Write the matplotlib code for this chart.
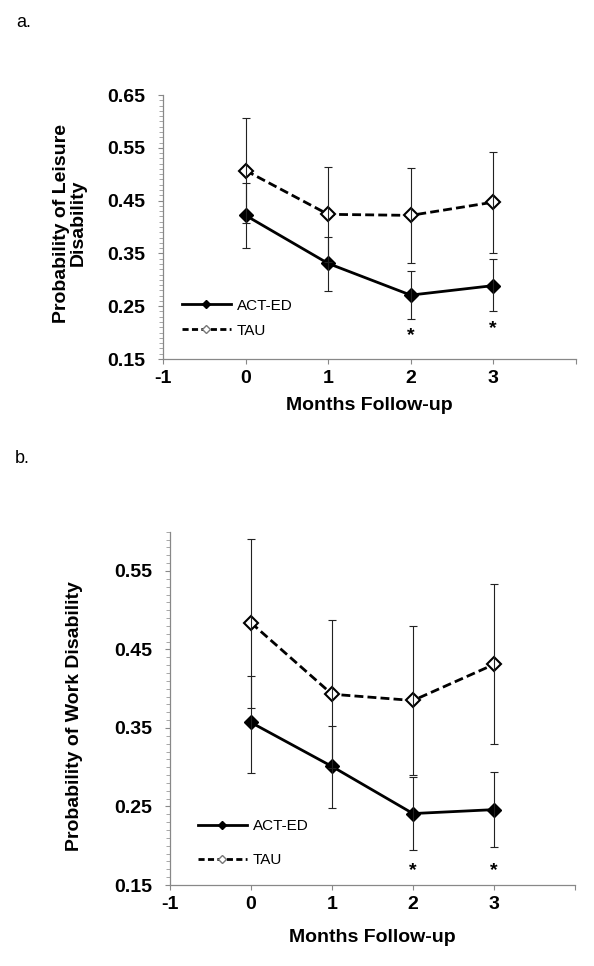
import numpy as np
import matplotlib
matplotlib.use('Agg')
import matplotlib.pyplot as plt
import matplotlib.transforms as mtransforms
from matplotlib.lines import Line2D
from matplotlib.ticker import MultipleLocator

plt.rcParams['font.family'] = ['Liberation Sans', 'DejaVu Sans']

# data
months = [0, 1, 2, 3]
xtick_labels = ['-1', '0', '1', '2', '3', '']

leisure_act = [0.422, 0.331, 0.271, 0.289]
leisure_act_lo = [0.361, 0.279, 0.225, 0.240]
leisure_act_hi = [0.483, 0.382, 0.317, 0.339]
leisure_tau = [0.507, 0.424, 0.422, 0.447]
leisure_tau_lo = [0.408, 0.334, 0.331, 0.350]
leisure_tau_hi = [0.606, 0.514, 0.511, 0.542]
leisure_yticks = [0.15, 0.25, 0.35, 0.45, 0.55, 0.65]

work_act = [0.357, 0.301, 0.241, 0.246]
work_act_lo = [0.293, 0.248, 0.194, 0.199]
work_act_hi = [0.416, 0.353, 0.288, 0.294]
work_tau = [0.484, 0.393, 0.385, 0.431]
work_tau_lo = [0.376, 0.299, 0.290, 0.329]
work_tau_hi = [0.591, 0.487, 0.480, 0.533]
work_yticks = [0.15, 0.25, 0.35, 0.45, 0.55]

star_months = [2, 3]
leisure_star_y = [0.200, 0.214]
work_star_y = [0.172, 0.172]

legend_labels = ['ACT-ED', 'TAU']

W, H = 594, 966
fig = plt.figure(figsize=(W / 100, H / 100), dpi=100)
GREY = '#888888'


def add_axes_px(left, top, right, bottom):
    return fig.add_axes([left / W, 1 - bottom / H, (right - left) / W, (bottom - top) / H])


def draw_panel(ax, act, act_lo, act_hi, tau, tau_lo, tau_hi, ylim, yticks,
               ylabel, ylab_xy, xlab_y, star_y, leg_x, leg_y, leg_space):
    ax.plot(months, act, color='black', lw=2, marker='D', ms=7, zorder=3)
    ax.plot(months, tau, color='black', lw=2, dashes=(3.2, 1.5), marker='D', ms=7,
            mfc='white', mec='black', mew=1.5, zorder=3)
    ax.errorbar(months, act, yerr=[np.subtract(act, act_lo), np.subtract(act_hi, act)],
                fmt='none', ecolor='#222222', elinewidth=0.8, capsize=3, capthick=0.8, zorder=4)
    ax.errorbar(months, tau, yerr=[np.subtract(tau, tau_lo), np.subtract(tau_hi, tau)],
                fmt='none', ecolor='#222222', elinewidth=0.8, capsize=3, capthick=0.8, zorder=4)

    # significance stars
    star_tr = mtransforms.offset_copy(ax.transData, fig=fig, y=-5.5, units='points')
    for xm, ys in zip(star_months, star_y):
        ax.text(xm, ys, '*', transform=star_tr, ha='center', va='baseline',
                fontsize=14, fontweight='bold')

    ax.set_xlim(-1, 4)
    ax.set_xticks([-1, 0, 1, 2, 3, 4])
    ax.set_xticklabels(xtick_labels)
    ax.set_ylim(*ylim)
    ax.set_yticks(yticks)
    ax.set_yticklabels(['%.2f' % v for v in yticks])
    ax.yaxis.set_minor_locator(MultipleLocator(0.01))

    for s in ['top', 'right']:
        ax.spines[s].set_visible(False)
    for s in ['left', 'bottom']:
        ax.spines[s].set_color(GREY)
        ax.spines[s].set_linewidth(0.9)

    ax.tick_params(axis='both', which='major', direction='out', length=3.6, width=0.8,
                   color=GREY, labelsize=14)
    ax.tick_params(axis='x', pad=4.5)
    ax.tick_params(axis='y', pad=9)
    ax.tick_params(axis='y', which='minor', direction='out', length=2.6, width=0.6, color='#999999')
    for lbl in ax.get_xticklabels() + ax.get_yticklabels():
        lbl.set_fontweight('bold')

    ax.set_ylabel(ylabel, fontsize=14, fontweight='bold', va='center', linespacing=1.0)
    ax.yaxis.set_label_coords(*ylab_xy)
    ax.set_xlabel('Months Follow-up', fontsize=14, fontweight='bold', va='center')
    ax.xaxis.set_label_coords(0.5, xlab_y)

    handles = [
        Line2D([], [], color='black', lw=2, marker='D', ms=4),
        Line2D([], [], color='black', lw=2, dashes=(2.2, 1.2), marker='D', ms=4,
               mfc='white', mec='#777777'),
    ]
    ax.legend(handles, legend_labels, loc='center left',
              bbox_to_anchor=(leg_x / W, 1 - leg_y / H), bbox_transform=fig.transFigure,
              frameon=False, fontsize=11, handlelength=3.2, handletextpad=0.4,
              borderpad=0, borderaxespad=0, labelspacing=leg_space)


ax1 = add_axes_px(163, 95, 575.8, 359)
draw_panel(ax1, leisure_act, leisure_act_lo, leisure_act_hi,
           leisure_tau, leisure_tau_lo, leisure_tau_hi,
           (0.15, 0.65), leisure_yticks, 'Probability of Leisure\nDisability',
           (-0.225, 0.515), -0.178, leisure_star_y, 182, 318, 0.72)

ax2 = add_axes_px(170, 531.7, 575, 885)
draw_panel(ax2, work_act, work_act_lo, work_act_hi,
           work_tau, work_tau_lo, work_tau_hi,
           (0.15, 0.60), work_yticks, 'Probability of Work Disability',
           (-0.2346, 0.478), -0.150, work_star_y, 198, 843, 1.29)

fig.text(16 / W, 1 - 26.7 / H, 'a.', fontsize=13, va='baseline')
fig.text(15 / W, 1 - 463.3 / H, 'b.', fontsize=13, va='baseline')

fig.savefig('out.png', dpi=100)
